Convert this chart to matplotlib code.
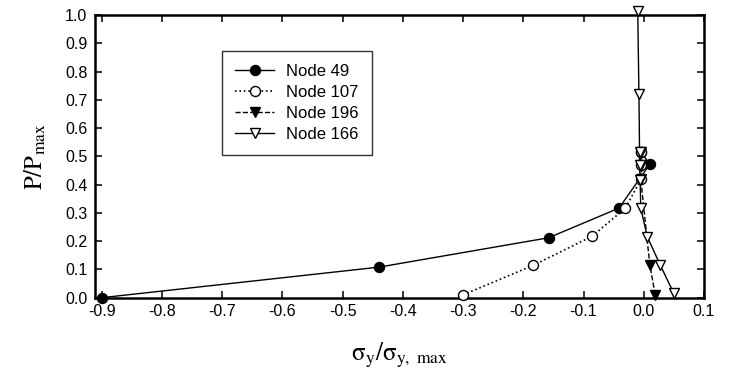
import matplotlib
matplotlib.use("Agg")
import matplotlib.pyplot as plt

plt.rcParams['font.family'] = ['Liberation Sans', 'DejaVu Sans']
plt.rcParams['mathtext.fontset'] = 'stix'

# Data
node49_x = [-0.90, -0.44, -0.158, -0.041, 0.010, -0.005]
node49_y = [0.00, 0.108, 0.212, 0.317, 0.472, 0.517]

node107_x = [-0.300, -0.184, -0.086, -0.031, -0.004, -0.004, -0.004]
node107_y = [0.010, 0.114, 0.217, 0.316, 0.420, 0.470, 0.517]

node196_x = [0.019, 0.010, -0.005, -0.005, -0.005]
node196_y = [0.010, 0.117, 0.420, 0.470, 0.517]

node166_x = [0.050, 0.027, 0.006, -0.005, -0.006, -0.007, -0.007, -0.008, -0.010]
node166_y = [0.015, 0.117, 0.215, 0.316, 0.416, 0.470, 0.517, 0.719, 1.015]

labels = ["Node 49", "Node 107", "Node 196", "Node 166"]
xticks = [-0.9, -0.8, -0.7, -0.6, -0.5, -0.4, -0.3, -0.2, -0.1, 0.0, 0.1]
yticks = [0.0, 0.1, 0.2, 0.3, 0.4, 0.5, 0.6, 0.7, 0.8, 0.9, 1.0]

fig = plt.figure(figsize=(7.3, 3.72), dpi=100)
ax = fig.add_axes([95/730, 1-297.7/372, 609/730, 282.7/372])

ms = 7.2
ax.plot(node49_x, node49_y, '-', color='black', lw=1.0, marker='o', ms=ms,
        mfc='black', mec='black', label=labels[0], clip_on=False, zorder=3)
ax.plot(node107_x, node107_y, ':', color='black', lw=1.2, marker='o', ms=ms,
        mfc='white', mec='black', label=labels[1], clip_on=False, zorder=3)
ax.plot(node196_x, node196_y, '--', color='black', lw=1.0, marker='v', ms=ms,
        mfc='black', mec='black', label=labels[2], clip_on=False, zorder=3)
ax.plot(node166_x, node166_y, '-', color='black', lw=1.0, marker='v', ms=ms + 0.5,
        mfc='white', mec='black', label=labels[3], clip_on=False, zorder=4)

ax.set_xlim(-0.911, 0.1)
ax.set_ylim(0.0, 1.0)
ax.set_xticks(xticks)
ax.set_yticks(yticks)
ax.set_xticklabels([f"{t:.1f}" for t in xticks])
ax.set_yticklabels([f"{t:.1f}" for t in yticks])
ax.tick_params(direction='in', top=True, right=True, length=5, width=1.1,
               labelsize=11.5)
ax.tick_params(axis='y', pad=5.5)
ax.tick_params(axis='x', pad=4.5)
for s in ax.spines.values():
    s.set_linewidth(1.8)

ax.set_xlabel(r'$\mathrm{\sigma_y/\sigma_{y,\ max}}$', fontsize=18)
ax.set_ylabel(r'$\mathrm{P/P_{max}}$', fontsize=18)
ax.xaxis.set_label_coords(0.5, -0.15)
ax.yaxis.set_label_coords(-0.077, 0.5)

leg = ax.legend(loc='upper left', bbox_to_anchor=(0.208, 0.873), fontsize=12,
                frameon=True, fancybox=False, edgecolor='black',
                handlelength=2.35, handletextpad=0.7, labelspacing=0.35,
                borderpad=0.8, borderaxespad=0)
leg.get_frame().set_linewidth(1.0)

fig.savefig("out.png", dpi=100)
